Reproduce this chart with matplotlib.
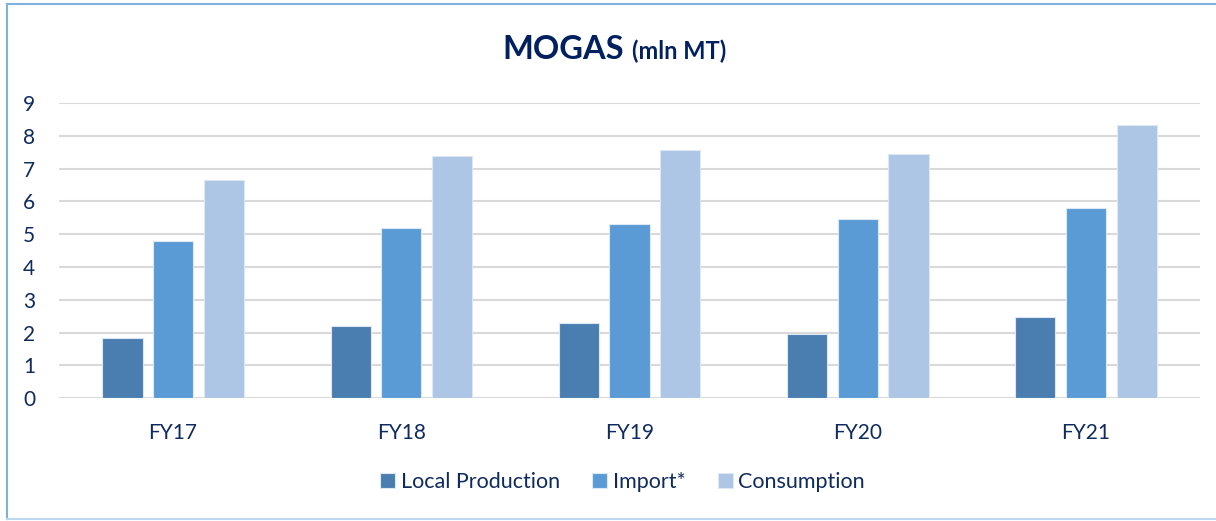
import matplotlib.pyplot as plt
import numpy as np
from matplotlib.lines import Line2D

years = ['FY17', 'FY18', 'FY19', 'FY20', 'FY21']
local_production = [1.83, 2.19, 2.28, 1.96, 2.49]
imports = [4.78, 5.18, 5.32, 5.46, 5.81]
consumption = [6.64, 7.37, 7.58, 7.44, 8.33]

series_names = ['Local Production', 'Import*', 'Consumption']
series_colors = ['#4A7EB0', '#5B9BD5', '#ADC6E5']
navy = '#0E2A5E'

plt.rcParams['font.family'] = ['Lato', 'DejaVu Sans']

fig = plt.figure(figsize=(12.16, 5.21), dpi=100)
ax = fig.add_axes([0.0485, 0.2355, 0.9385, 0.567])

x = np.arange(len(years))
width = 0.176
step = 0.222
for i, (vals, name, col) in enumerate(zip([local_production, imports, consumption],
                                          series_names, series_colors)):
    ax.bar(x + (i - 1) * step, vals, width=width, color=col, label=name,
           edgecolor='#DDE8F5', linewidth=0.8, zorder=2)

ax.set_xlim(-0.5, len(years) - 0.5)
ax.set_ylim(0, 9)
ax.set_yticks(range(0, 10))
ax.set_xticks(x)
ax.set_xticklabels(years)
ax.grid(axis='y', color='#D9D9D9', linewidth=1.5, zorder=0)
ax.set_axisbelow(True)
for side in ['top', 'right', 'left', 'bottom']:
    ax.spines[side].set_visible(False)
ax.tick_params(axis='both', length=0, labelsize=15, labelcolor=navy)
ax.tick_params(axis='x', pad=18)
ax.tick_params(axis='y', pad=17)

# title in two pieces
fig.text(624 / 1216, 1 - 59 / 521, 'MOGAS', ha='right', va='baseline',
         fontsize=23.5, fontweight='bold', color='#002060')
fig.text(632 / 1216, 1 - 59 / 521, '(mln MT)', ha='left', va='baseline',
         fontsize=17, fontweight='bold', color='#002060')

leg = fig.legend(loc='center', bbox_to_anchor=(0.512, 1 - 482 / 521), ncol=3,
                 frameon=False, fontsize=15.5, handlelength=0.7, handleheight=0.7,
                 handletextpad=0.25, columnspacing=1.5)
for t in leg.get_texts():
    t.set_color(navy)

# chart frame (left, top, bottom visible)
frame_col = '#7FB0DE'
fig.add_artist(Line2D([7 / 1216, 7 / 1216], [1 - 4 / 521, 1 - 519 / 521],
                      transform=fig.transFigure, color=frame_col, linewidth=1.5))
fig.add_artist(Line2D([7 / 1216, 1.0], [1 - 4 / 521, 1 - 4 / 521],
                      transform=fig.transFigure, color=frame_col, linewidth=1.5))
fig.add_artist(Line2D([7 / 1216, 1.0], [1 - 519 / 521, 1 - 519 / 521],
                      transform=fig.transFigure, color='#BDD7EE', linewidth=1.5))

fig.savefig('out.png', dpi=100)
